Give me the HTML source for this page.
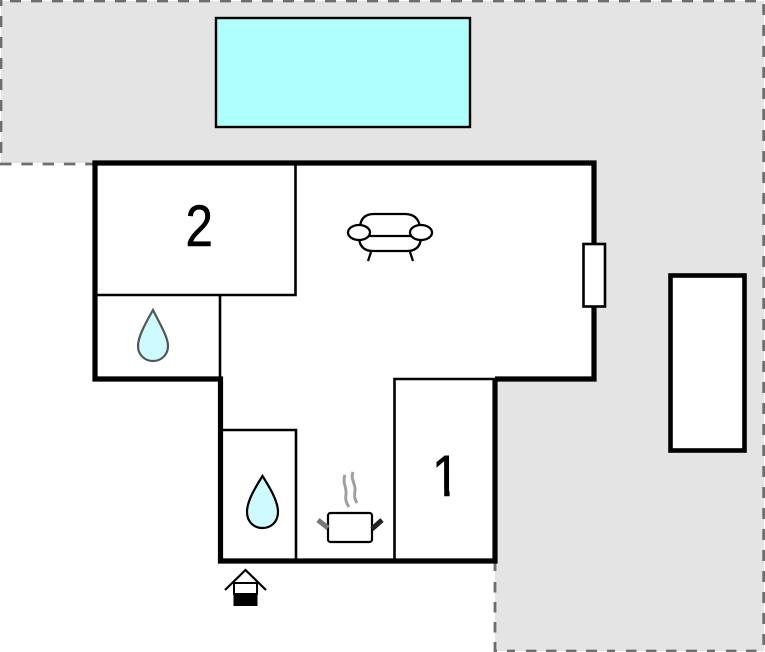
<!DOCTYPE html>
<html>
<head>
<meta charset="utf-8">
<style>
html,body{margin:0;padding:0;background:#fff}
svg{display:block}
text{font-family:"Liberation Sans",sans-serif;fill:#000;stroke:#000;stroke-width:.6}
</style>
</head>
<body>
<svg width="765" height="652" viewBox="0 0 765 652" xmlns="http://www.w3.org/2000/svg">
<polygon points="1,1 764,1 764,651 495,651 495,379 594,379 594,163 1,163" fill="#e4e4e4"/>
<g fill="none" stroke="#6e6e6e" stroke-width="2.8">
<path d="M756,1 H0" stroke-dasharray="11 10"/>
<path d="M1,153 V0" stroke-dasharray="11 10"/>
<path d="M763.7,4 V652" stroke-dasharray="11 10"/>
<path d="M0,164 H94" stroke-dasharray="11.5 9.8"/>
<path d="M495,563 V651 H765" stroke-dasharray="8 11 10.5 9.5 10.5 9.5 10.5 9.5 11 10" stroke-dashoffset="0"/>
</g>
<rect x="216" y="18" width="254" height="109" fill="#b0ffff" stroke="#000" stroke-width="2.400"/>
<rect x="670.5" y="275.5" width="74" height="175" fill="#fff" stroke="#000" stroke-width="4.600"/>
<polygon points="95,163 594,163 594,379 495,379 495,561 221,561 221,379 95,379" fill="#fff"/>
<g fill="none" stroke="#000" stroke-width="2.600">
<path d="M295.5,163 V295 H95"/>
<path d="M220,295 V379"/>
<path d="M221,430 H296 V561"/>
<path d="M394.5,561 V379 H495"/>
</g>
<path d="M495,379 H594 V163 H95 V379 H220.500 V561 H495 V379" fill="none" stroke="#000" stroke-width="5.200" stroke-linejoin="miter"/>
<rect x="583.500" y="244" width="21.500" height="62.500" fill="#fff" stroke="#000" stroke-width="2.600"/>
<text transform="translate(185.500,246) scale(.85,1)" font-size="58">2</text>
<text transform="translate(432,496) scale(.85,1)" font-size="58">1</text>
<rect x="425" y="490" width="19.200" height="8" fill="#fff"/>
<rect x="449.600" y="490" width="18" height="8" fill="#fff"/>
<g fill="none" stroke="#000" stroke-width="2.300">
<path d="M360,227 Q361,214 374,214 H405 Q418,214 420,227"/>
<path d="M359,238 Q360,251 373,251 H407 Q420,251 421,238"/>
<path d="M368,236 H412"/>
<path d="M371,252 L368,261 M410,252 L413,261"/>
<ellipse cx="359" cy="232.500" rx="11" ry="7.500" fill="#fff"/>
<ellipse cx="421" cy="232.500" rx="11" ry="7.500" fill="#fff"/>
</g>
<path d="M153,310 C145,324 138,337 138,346 C138,355 145,361 153,361 C161,361 168,355 168,346 C168,337 160,324 153,310 Z" fill="#cdfbff" stroke="#555" stroke-width="2.200"/>
<path d="M262.500,476 C255,488 247,501 247,512 C247,522 254,528 262.500,528 C271,528 278,522 278,512 C278,501 270,488 262.500,476 Z" fill="#cdfbff" stroke="#000" stroke-width="2.200"/>
<rect x="328" y="513" width="44" height="29" rx="2.500" fill="#fff" stroke="#000" stroke-width="2.200"/>
<path d="M318,520 L328,528" stroke="#777" stroke-width="5" fill="none"/>
<path d="M372,529 L382,520" stroke="#222" stroke-width="5" fill="none"/>
<path d="M345,475 C342,482 347,488 346,494 C345,499 346,503 349,507 M353,472 C350,479 356,484 355,491 C354,497 355,500 357,503" fill="none" stroke="#a0a0a0" stroke-width="3"/>
<path d="M225,590 L245.500,570 L266,590" fill="none" stroke="#000" stroke-width="2.200"/>
<rect x="234" y="583" width="23" height="11" fill="#fff" stroke="#000" stroke-width="2"/>
<rect x="233.500" y="594" width="24" height="12" fill="#000"/>
</svg>
</body>
</html>
